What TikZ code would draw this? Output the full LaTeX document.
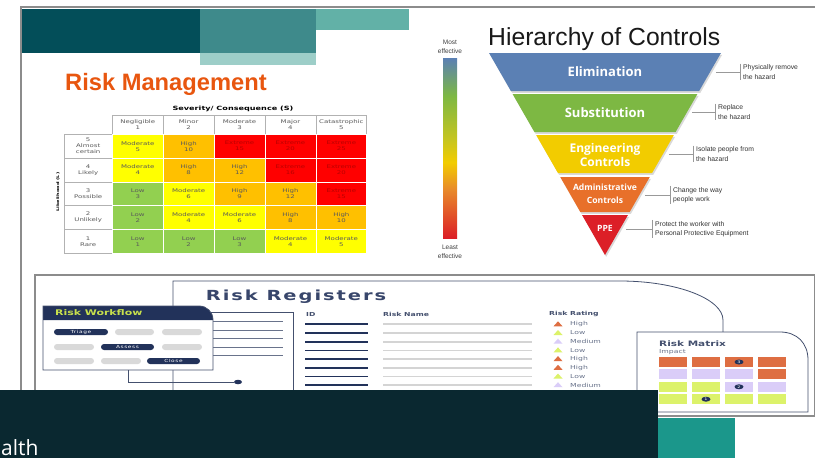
\documentclass[tikz,border=0pt]{standalone}
\usepackage{fontspec}
\setmainfont{Liberation Sans}
\newfontfamily\opensans{Open Sans}
\newfontfamily\regfont[FakeStretch=1.4]{DejaVu Sans}
\newfontfamily\regwide[FakeStretch=1.4,LetterSpace=14]{DejaVu Sans}
\usetikzlibrary{shapes.geometric}
\definecolor{tealDark}{HTML}{034E59}
\definecolor{tealMid}{HTML}{3E8A8B}
\definecolor{tealPale}{HTML}{9DCEC8}
\definecolor{tealLight}{HTML}{62B1A7}
\definecolor{rmOrange}{HTML}{E8560F}
\definecolor{cGrn}{HTML}{92D050}
\definecolor{cYel}{HTML}{FFFF00}
\definecolor{cOra}{HTML}{FFC000}
\definecolor{cRed}{HTML}{FF0000}
\definecolor{hElim}{HTML}{5B80B4}
\definecolor{hSubs}{HTML}{7DB843}
\definecolor{hEng}{HTML}{F2CC00}
\definecolor{hAdm}{HTML}{E8702A}
\definecolor{hPPE}{HTML}{DC1F27}
\definecolor{gOra}{HTML}{E88A2A}
\definecolor{gYG}{HTML}{C5C520}
\definecolor{navy}{HTML}{22325A}
\definecolor{navyLine}{HTML}{44506E}
\definecolor{wfLime}{HTML}{C8E04C}
\definecolor{rgOrange}{HTML}{DE6E42}
\definecolor{rgLime}{HTML}{DCF26A}
\definecolor{rgLav}{HTML}{DACDF8}
\definecolor{pillGray}{HTML}{D9D9D9}
\definecolor{bandDark}{HTML}{0A2830}
\definecolor{bandTeal}{HTML}{1B978B}
\definecolor{frameGray}{HTML}{8C8C8C}
\pgfdeclareverticalshading{effect}{100bp}{color(0bp)=(hPPE); color(25bp)=(hPPE); color(38.5bp)=(gOra); color(46bp)=(hEng); color(52.5bp)=(gYG); color(64.5bp)=(hSubs); color(75bp)=(hElim); color(100bp)=(hElim)}

\begin{document}
\begin{tikzpicture}[x=1pt, y=-1pt,
    frame/.style={draw=frameGray, line width=1.1pt},
    cell/.style={draw=white, line width=0.7pt, minimum width=50.9pt, minimum height=23.8pt, inner sep=0pt, align=center, text=black!65, font=\regfont\fontsize{5}{6}\selectfont},
    head/.style={cell, draw=black!30, fill=white},
    Low/.style={fill=cGrn}, Moderate/.style={fill=cYel}, High/.style={fill=cOra}, Extreme/.style={fill=cRed, text=red!72!black},
    band/.style={text=white, align=center, inner sep=0pt, font=\opensans\bfseries\fontsize{13}{14}\selectfont},
    note/.style={anchor=west, align=left, inner xsep=3pt, inner ysep=1pt, text=black!80, font=\fontsize{6.8}{9.5}\selectfont},
    leader/.style={draw=black!40, line width=0.7pt},
    sheet/.style={draw=navyLine, line width=0.8pt},
    pill/.style={rounded corners=3pt, minimum height=6pt, inner sep=0pt, text=white, font=\regwide\fontsize{4.2}{5}\selectfont},
    reg/.style={anchor=west, inner sep=0pt, text=navyLine, font=\regfont\bfseries\fontsize{5.5}{6}\selectfont},
    rate/.style={anchor=west, inner sep=0pt, text=navyLine!80, font=\regfont\fontsize{5.5}{6}\selectfont},
    mcell/.style={minimum width=28pt, minimum height=10pt, inner sep=0pt},
    mdot/.style={ellipse, fill=navy, minimum width=9pt, minimum height=5pt, inner sep=0pt, text=white, font=\regfont\fontsize{3.5}{4}\selectfont}]

  \useasboundingbox (0,0) rectangle (815,458);
  \fill[white] (0,0) rectangle (815,458);

  % slide header
  \draw[frame] (21,390) -- (21,7) -- (815,7);
  \fill[tealDark] (22,9) rectangle (200,53);
  \fill[tealMid] (200,9) rectangle (316,53);
  \fill[tealPale] (200,53) rectangle (316,65);
  \fill[tealLight] (316,9) rectangle (409,30);
  \node[anchor=base west, inner sep=0pt, text=rmOrange, font=\bfseries\fontsize{23.7}{26}\selectfont] (rmtitle) at (65,90) {Risk Management};

  % likelihood x severity table
  \node[font=\regfont\bfseries\fontsize{5.8}{7}\selectfont] (sevttl) at (233,109) {Severity/ Consequence (S)};
  \node[rotate=90, font=\regfont\bfseries\fontsize{3.6}{5}\selectfont] (likttl) at (58,192) {Likelihood (L)};
  \foreach \hd [count=\c] in {{Negligible\\1},{Minor\\2},{Moderate\\3},{Major\\4},{Catastrophic\\5}}
    \node[head, minimum height=19.3pt] (sev\c) at ({86.85+50.9*\c},124.6) {\hd};
  \foreach \lab/\cells [count=\r] in {
      {5\\Almost\\certain}/{Moderate/5,High/10,Extreme/15,Extreme/20,Extreme/25},
      {4\\Likely}/{Moderate/4,High/8,High/12,Extreme/16,Extreme/20},
      {3\\Possible}/{Low/3,Moderate/6,High/9,High/12,Extreme/15},
      {2\\Unlikely}/{Low/2,Moderate/4,Moderate/6,High/8,High/10},
      {1\\Rare}/{Low/1,Low/2,Low/3,Moderate/4,Moderate/5}} {
    \node[head, minimum width=48.3pt] (lik\r) at (88.2,{122.4+23.8*\r}) {\lab};
    \foreach \lv/\n [count=\c] in \cells
      \node[cell, \lv] (m\r\c) at ({86.85+50.9*\c},{122.4+23.8*\r}) {\lv\\\n};
  }

  % effectiveness scale
  \shade[shading=effect] (443,58) rectangle (457,238);
  \node[align=center, text=black!75, font=\fontsize{6.5}{9.5}\selectfont] (most) at (450,47) {Most\\effective};
  \node[align=center, text=black!75, font=\fontsize{6.5}{9.5}\selectfont] (least) at (450,252) {Least\\effective};

  % hierarchy funnel
  \node[anchor=base west, inner sep=0pt, font=\fontsize{24.7}{27}\selectfont, text=black!90] (hoc) at (488,45) {Hierarchy of Controls};
  \foreach \yt/\yb/\col in {53/91/hElim,94/132/hSubs,135/173/hEng,177/212/hAdm} {
    \fill[black!15, shift={(1.2,1.8)}] ({605-(255-\yt)*0.574},\yt) -- ({605+(255-\yt)*0.574},\yt) -- ({605+(255-\yb)*0.574},\yb) -- ({605-(255-\yb)*0.574},\yb) -- cycle;
    \fill[\col] ({605-(255-\yt)*0.574},\yt) -- ({605+(255-\yt)*0.574},\yt) -- ({605+(255-\yb)*0.574},\yb) -- ({605-(255-\yb)*0.574},\yb) -- cycle;
  }
  \fill[black!15, shift={(1.2,1.8)}] ({605-40*0.574},215) -- ({605+40*0.574},215) -- (605,255) -- cycle;
  \fill[hPPE] ({605-40*0.574},215) -- ({605+40*0.574},215) -- (605,255) -- cycle;
  \node[band] (elim) at (605,72) {Elimination};
  \node[band] (subs) at (605,113) {Substitution};
  \node[band, font=\opensans\bfseries\fontsize{12}{14}\selectfont] (eng) at (605,155) {Engineering\\Controls};
  \node[band, font=\opensans\bfseries\fontsize{8.6}{13}\selectfont] (adm) at (605,194) {Administrative\\Controls};
  \node[band, font=\opensans\bfseries\fontsize{8.6}{10}\selectfont] (ppe) at (605,228) {PPE};
  \foreach \nm/\xl/\xb/\y/\txt in {elim/716/740/72/{Physically remove\\the hazard},
      subs/692/715/112/{Replace\\the hazard}, eng/669/693/154/{Isolate people from\\the hazard},
      adm/645/670/195/{Change the way\\people work}, ppe/626/652/229/{Protect the worker with\\Personal Protective Equipment}} {
    \coordinate (\nm-edge) at (\xl,\y);
    \node[note] (\nm-note) at (\xb,\y) {\txt};
    \draw[leader] (\nm-edge) -- (\nm-note.west);
    \draw[leader] (\nm-note.north west) -- (\nm-note.south west);
  }

  % risk registers screen
  \fill[white] (35,275) rectangle (815,416);
  \draw[frame] (35,392) -- (35,275) -- (814.5,275) -- (814.5,416) -- (658,416);
  \draw[sheet] (173,392) -- (173,281) -- (620,281) .. controls (677,281) and (723,299) .. (723,320) -- (723,332);
  \node[font=\regwide\bfseries\fontsize{13.9}{15}\selectfont, text=navy!90] (regttl) at (296,297) {Risk Registers};
  \draw[sheet] (205,312) -- (293,312) -- (293,392);
  \foreach \y in {321,330,338,347,355}
    \draw[navyLine!80, line width=0.6pt] (205,\y) -- (283,\y);

  \node[reg] (idhd) at (306,314) {ID};
  \node[reg] (namehd) at (383,314) {Risk Name};
  \node[reg] (ratehd) at (549,314) {Risk Rating};
  \foreach \lv/\col [count=\k from 0] in {High/rgOrange,Low/rgLime,Medium/rgLav,Low/rgLime,High/rgOrange,High/rgOrange,Low/rgLime,Medium/rgLav} {
    \draw[navy, line width=1.8pt] (305,{324.3+8.7*\k}) -- (368,{324.3+8.7*\k});
    \draw[black!17, line width=1.8pt] (383,{324.3+8.7*\k}) -- (532,{324.3+8.7*\k});
    \fill[\col] (553.5,{326.3+8.7*\k}) -- (562.5,{326.3+8.7*\k}) -- (558,{321.3+8.7*\k}) -- cycle;
    \node[rate] (rate\k) at (570,{324.3+8.7*\k}) {\lv};
  }

  % workflow card
  \fill[white] (43,370) -- (43,306) -- (199,306) .. controls (207,306) and (213,312) .. (213,320) -- (213,370) -- cycle;
  \fill[navy] (43,320) -- (43,306) -- (199,306) .. controls (207,306) and (213,312) .. (213,320) -- cycle;
  \draw[sheet] (43,370) -- (43,306) -- (199,306) .. controls (207,306) and (213,312) .. (213,320) -- (213,370) -- cycle;
  \node[anchor=west, inner sep=0pt, text=wfLime, font=\regfont\bfseries\fontsize{7.8}{8}\selectfont] (wfttl) at (55,313) {Risk Workflow};
  \node[pill, fill=navy, minimum width=54pt] (triage) at (81,332) {Triage};
  \node[pill, fill=pillGray, minimum width=39pt] (p12) at (134.5,332) {};
  \node[pill, fill=pillGray, minimum width=40pt] (p13) at (182,332) {};
  \node[pill, fill=pillGray, minimum width=40pt] (p21) at (74,347) {};
  \node[pill, fill=navy, minimum width=53pt] (assess) at (127.5,347) {Assess};
  \node[pill, fill=pillGray, minimum width=40pt] (p23) at (182,347) {};
  \node[pill, fill=pillGray, minimum width=40pt] (p31) at (74,361) {};
  \node[pill, fill=pillGray, minimum width=40pt] (p32) at (121,361) {};
  \node[pill, fill=navy, minimum width=53pt] (close) at (173.5,361) {Close};
  \coordinate (wfout) at (128,370);
  \node[ellipse, fill=navy, minimum width=8pt, minimum height=4.5pt, inner sep=0pt] (wfdot) at (238,382) {};
  \draw[sheet] (wfout) |- (wfdot);

  % risk matrix card
  \fill[white] (637,412) -- (637,332) -- (780,332) .. controls (797,332) and (808,343) .. (808,360) -- (808,412) -- cycle;
  \draw[sheet] (637,412) -- (637,332) -- (780,332) .. controls (797,332) and (808,343) .. (808,360) -- (808,412) -- cycle;
  \node[reg, font=\regfont\bfseries\fontsize{7.5}{8}\selectfont] (rmxttl) at (659,344) {Risk Matrix};
  \node[rate, font=\regfont\fontsize{5.5}{6}\selectfont] (impact) at (659,352.5) {Impact};
  \foreach \cols [count=\r] in {{rgOrange,rgOrange,rgOrange,rgOrange},{rgLav,rgLav,rgLav,rgOrange},{rgLime,rgLime,rgLav,rgLav},{rgLime,rgLime,rgLime,rgLime}}
    \foreach \col [count=\c] in \cols
      \node[mcell, fill=\col] (rx\r\c) at ({640+33*\c},{349.6+12.4*\r}) {};
  \node[mdot] (dot3) at (rx13) {3};
  \node[mdot] (dot2) at (rx33) {2};
  \node[mdot] (dot1) at (rx42) {1};

  % footer bands
  \fill[bandDark] (0,390) rectangle (658,458);
  \fill[bandTeal] (658,418) rectangle (735,458);
  \node[anchor=base west, inner sep=0pt, text depth=0pt, text=white, font=\opensans\fontsize{21}{24}\selectfont] (footer) at (1,455) {alth};
\end{tikzpicture}
\end{document}
